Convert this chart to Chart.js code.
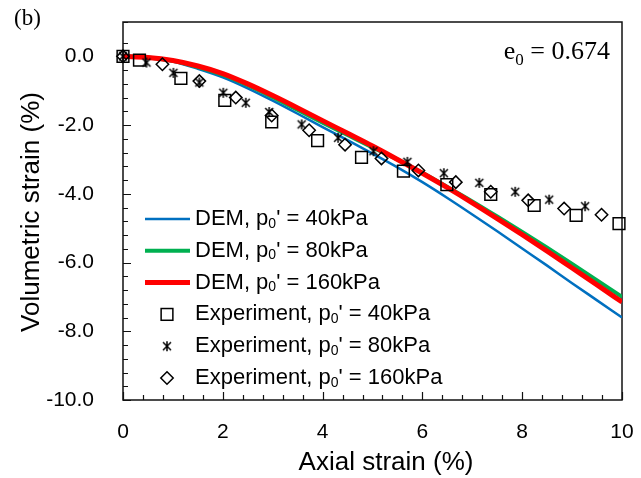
<!DOCTYPE html>
<html>
<head>
<meta charset="utf-8">
<title>Volumetric strain vs axial strain</title>
<script src="https://cdn.jsdelivr.net/npm/chart.js@4.4.1/dist/chart.umd.min.js"></script>
<style>
  html, body { margin: 0; padding: 0; background: #fff; }
  #plot { display: block; }
</style>
</head>
<body>
<canvas id="plot" width="641" height="478"></canvas>
<script>
// DEM curves, every 0.5 % of axial strain
const demAxial  = [0, 0.5, 1, 1.5, 2, 2.5, 3, 3.5, 4, 4.5, 5, 5.5, 6, 6.5, 7, 7.5, 8, 8.5, 9, 9.5, 10];
const demVol40  = [0, -0.04, -0.15, -0.36, -0.61, -0.93, -1.29, -1.67, -2.06, -2.44, -2.83, -3.23, -3.66, -4.12, -4.6, -5.09, -5.59, -6.09, -6.6, -7.1, -7.6];
const demVol80  = [0, -0.03, -0.13, -0.31, -0.54, -0.84, -1.19, -1.56, -1.93, -2.29, -2.65, -3.0, -3.39, -3.8, -4.22, -4.66, -5.11, -5.57, -6.04, -6.52, -7.0];
const demVol160 = [0, -0.03, -0.12, -0.28, -0.5, -0.8, -1.14, -1.5, -1.87, -2.24, -2.61, -3.0, -3.4, -3.82, -4.26, -4.72, -5.19, -5.67, -6.16, -6.65, -7.15];

// triaxial tests
const expAxial40  = [0, 0.33, 1.16, 2.04, 2.98, 3.9, 4.78, 5.62, 6.49, 7.37, 8.24, 9.08, 9.94];
const expVol40    = [0, -0.11, -0.64, -1.28, -1.91, -2.45, -2.94, -3.34, -3.73, -4.02, -4.34, -4.63, -4.87];
const expAxial80  = [0, 0.47, 1.01, 1.53, 2.01, 2.46, 2.93, 3.58, 4.31, 5.02, 5.7, 6.43, 7.14, 7.86, 8.54, 9.26];
const expVol80    = [0, -0.18, -0.48, -0.76, -1.06, -1.35, -1.62, -1.98, -2.37, -2.76, -3.07, -3.4, -3.68, -3.94, -4.17, -4.36];
const expAxial160 = [0, 0.79, 1.53, 2.26, 2.98, 3.73, 4.45, 5.18, 5.92, 6.67, 7.37, 8.12, 8.84, 9.59];
const expVol160   = [0, -0.23, -0.72, -1.2, -1.72, -2.15, -2.57, -2.97, -3.32, -3.66, -3.94, -4.19, -4.43, -4.61];

const pressures = [40, 80, 160];
const xLabels = [0, 2, 4, 6, 8, 10];
const yLabels = [0, -2, -4, -6, -8, -10];
const xTitle = 'Axial strain (%)';
const yTitle = 'Volumetric strain (%)';

const FONT = "'Liberation Sans', Arial, sans-serif";
const SERIF = "'Liberation Serif', 'Times New Roman', serif";

// excel style "star" marker: an x with a vertical bar
function starMarker() {
  const c = document.createElement('canvas');
  c.width = 12; c.height = 12;
  const g = c.getContext('2d');
  g.strokeStyle = '#000';
  g.lineWidth = 1.5;
  g.beginPath();
  g.moveTo(2, 2); g.lineTo(10, 10);
  g.moveTo(10, 2); g.lineTo(2, 10);
  g.moveTo(6, 1); g.lineTo(6, 11);
  g.stroke();
  return c;
}
const star = starMarker();

function pts(xs, ys) {
  return xs.map(function (x, i) { return { x: x, y: ys[i] }; });
}

function demSet(p, ys, color, width, order) {
  return {
    label: "DEM, p\u2080' = " + p + 'kPa',
    data: pts(demAxial, ys),
    showLine: true,
    borderColor: color,
    borderWidth: width,
    pointRadius: 0,
    cubicInterpolationMode: 'monotone',
    order: order
  };
}

function expSet(p, xs, ys, style, radius) {
  return {
    label: "Experiment, p\u2080' = " + p + 'kPa',
    data: pts(xs, ys),
    showLine: false,
    pointStyle: style,
    pointRadius: radius,
    pointBorderColor: '#000',
    pointBackgroundColor: 'rgba(0,0,0,0)',
    pointBorderWidth: 1.5,
    clip: false,
    order: 0
  };
}

function isLabelled(list, v) {
  return list.find(function (t) { return Math.abs(t - v) < 1e-6; });
}

// box + inward tick marks
const frame = {
  id: 'frame',
  beforeDatasetsDraw(chart) {
    const ctx = chart.ctx, a = chart.chartArea;
    const sx = chart.scales.x, sy = chart.scales.y;
    ctx.save();
    ctx.strokeStyle = '#111';
    ctx.lineWidth = 1.5;
    ctx.strokeRect(a.left, a.top, a.right - a.left, a.bottom - a.top);
    ctx.lineWidth = 1.2;
    ctx.beginPath();
    sx.ticks.forEach(function (t) {
      const px = Math.round(sx.getPixelForValue(t.value)) + 0.5;
      const len = isLabelled(xLabels, t.value) !== undefined ? 8 : 5;
      ctx.moveTo(px, a.bottom);
      ctx.lineTo(px, a.bottom - len);
    });
    sy.ticks.forEach(function (t) {
      const py = Math.round(sy.getPixelForValue(t.value)) + 0.5;
      const len = isLabelled(yLabels, t.value) !== undefined ? 8 : 5;
      ctx.moveTo(a.left, py);
      ctx.lineTo(a.left + len, py);
    });
    ctx.stroke();
    ctx.restore();
  }
};

// text with the "0" of p0 / e0 set as a subscript
function subText(ctx, text, x, y, size, family) {
  const parts = text.split('\u2080');
  ctx.font = size + 'px ' + family;
  ctx.fillText(parts[0], x, y);
  x += ctx.measureText(parts[0]).width;
  if (parts.length > 1) {
    ctx.font = Math.round(size * 0.65) + 'px ' + family;
    ctx.fillText('0', x, y + size * 0.22);
    x += ctx.measureText('0').width;
    ctx.font = size + 'px ' + family;
    ctx.fillText(parts[1], x, y);
    x += ctx.measureText(parts[1]).width;
  }
  return x;
}

const legendRows = {
  id: 'legendRows',
  afterDraw(chart) {
    const ctx = chart.ctx, a = chart.chartArea;
    ctx.save();
    ctx.textBaseline = 'middle';
    ctx.fillStyle = '#000';
    chart.data.datasets.forEach(function (ds, i) {
      const y = 219 + i * 31.8;
      if (ds.showLine) {
        ctx.strokeStyle = ds.borderColor;
        ctx.lineWidth = ds.borderWidth;
        ctx.beginPath();
        ctx.moveTo(145, y);
        ctx.lineTo(190, y);
        ctx.stroke();
      } else {
        const cx = 167, r = ds.pointRadius;
        ctx.strokeStyle = '#000';
        ctx.lineWidth = ds.pointBorderWidth;
        if (ds.pointStyle === 'rect') {
          const h = r * Math.SQRT1_2;
          ctx.strokeRect(cx - h, y - h, 2 * h, 2 * h);
        } else if (ds.pointStyle === 'rectRot') {
          ctx.beginPath();
          ctx.moveTo(cx, y - r); ctx.lineTo(cx + r, y);
          ctx.lineTo(cx, y + r); ctx.lineTo(cx - r, y);
          ctx.closePath();
          ctx.stroke();
        } else {
          ctx.drawImage(ds.pointStyle, cx - ds.pointStyle.width / 2, y - ds.pointStyle.height / 2);
        }
      }
      subText(ctx, ds.label, 195, y, 22, FONT);
    });

    // axis titles
    ctx.font = '26px ' + FONT;
    ctx.textAlign = 'center';
    ctx.fillText(xTitle, 386, 463);
    ctx.translate(32, (a.top + a.bottom) / 2 + 1);
    ctx.rotate(-Math.PI / 2);
    ctx.fillText(yTitle, 0, 0);
    ctx.setTransform(1, 0, 0, 1, 0, 0);

    // panel tag and void ratio
    ctx.textAlign = 'left';
    ctx.textBaseline = 'alphabetic';
    ctx.font = '23px ' + SERIF;
    ctx.fillText('(b)', 14, 25);
    ctx.font = '26px ' + SERIF;
    const tail = ' = 0.674';
    const tailW = ctx.measureText(tail).width;
    const eW = ctx.measureText('e').width;
    ctx.font = '17px ' + SERIF;
    const subW = ctx.measureText('0').width;
    subText(ctx, 'e\u2080' + tail, 610 - tailW - subW - eW, 59, 26, SERIF);
    ctx.restore();
  }
};

new Chart(document.getElementById('plot'), {
  type: 'scatter',
  data: {
    datasets: [
      demSet(pressures[0], demVol40, '#0070C0', 2.5, 3),
      demSet(pressures[1], demVol80, '#00B050', 4, 2),
      demSet(pressures[2], demVol160, '#FF0000', 5, 1),
      expSet(pressures[0], expAxial40, expVol40, 'rect', 8.3),
      expSet(pressures[1], expAxial80, expVol80, star, 6),
      expSet(pressures[2], expAxial160, expVol160, 'rectRot', 6.2)
    ]
  },
  plugins: [frame, legendRows],
  options: {
    responsive: false,
    animation: false,
    layout: { padding: { top: 22, right: 19, left: 0, bottom: 0 } },
    plugins: {
      legend: { display: false },
      tooltip: { enabled: false }
    },
    scales: {
      x: {
        type: 'linear',
        min: 0,
        max: 10,
        grid: { display: false },
        border: { display: false },
        afterFit: function (s) {
          s.height = 78;
          s.paddingLeft = 0;
          s.paddingRight = 0;
        },
        ticks: {
          stepSize: 0.4,
          autoSkip: false,
          maxRotation: 0,
          padding: 12,
          color: '#000',
          font: { family: FONT, size: 21 },
          callback: function (v) {
            const t = isLabelled(xLabels, v);
            return t === undefined ? '' : String(t);
          }
        }
      },
      y: {
        type: 'linear',
        min: -10,
        max: 1,
        grid: { display: false },
        border: { display: false },
        afterFit: function (s) {
          s.width = 123;
          s.paddingTop = 0;
          s.paddingBottom = 0;
        },
        ticks: {
          stepSize: 0.4,
          autoSkip: false,
          padding: 21,
          color: '#000',
          font: { family: FONT, size: 21 },
          callback: function (v) {
            const t = isLabelled(yLabels, v);
            return t === undefined ? '' : t.toFixed(1);
          }
        }
      }
    }
  }
});
</script>
</body>
</html>
